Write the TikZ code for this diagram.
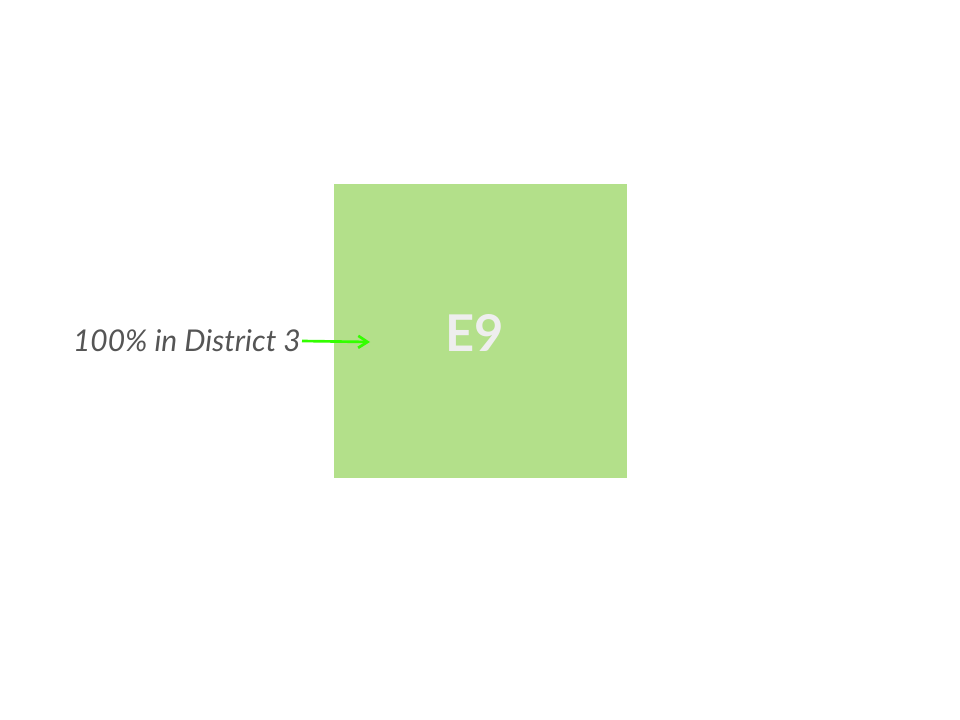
\documentclass[tikz,border=0pt]{standalone}
\usepackage{fontspec}
\setsansfont{Lato}
\usepackage{tikz}
\usetikzlibrary{arrows.meta}
\definecolor{boxgreen}{RGB}{179,224,138}
\definecolor{arrgreen}{RGB}{51,255,0}
\definecolor{lblgray}{RGB}{85,85,85}
\definecolor{boxtext}{RGB}{238,238,238}

\begin{document}
\begin{tikzpicture}[x=0.75pt,y=0.75pt,yscale=-1,xscale=1]
\useasboundingbox (0,0) rectangle (960,720);

%Shape: Square [id:e9]
\node (e9) [fill=boxgreen, inner sep=0pt, minimum width=293*0.75pt, minimum height=294*0.75pt, anchor=north west] at (334,184) {};
% Text Node
\node (e9txt) [inner sep=0.75pt, text=boxtext, font=\sffamily\bfseries\fontsize{38}{44}\selectfont] at (475,333) {E9};
% Text Node
\node (lbl) [anchor=east, inner sep=0.75pt, text=lblgray, font=\sffamily\itshape\fontsize{22.5}{27}\selectfont] at (302,341) {100\% in District 3};
%Coordinate
\coordinate (tip) at (370,342);
%Straight Lines
\draw [color=arrgreen, line width=2, -{Straight Barb[length=7pt,width=9pt]}] (lbl.east) -- (tip);

\end{tikzpicture}
\end{document}
